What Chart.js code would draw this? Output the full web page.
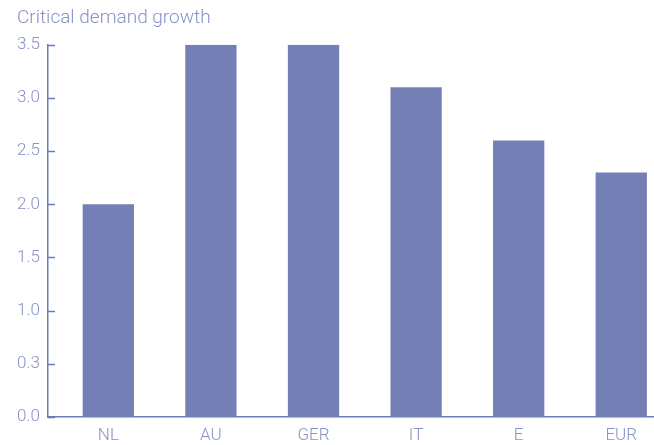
<!DOCTYPE html>
<html>
<head>
<meta charset="utf-8">
<script src="https://cdn.jsdelivr.net/npm/chart.js@4"></script>
<style>
  html, body { margin: 0; padding: 0; background: #fff; }
  #wrap { width: 654px; height: 445px; }
</style>
</head>
<body>
<div id="wrap"><canvas id="demandChart"></canvas></div>
<script>
const categories = ['NL', 'AU', 'GER', 'IT', 'E', 'EUR'];
const growth = [2.0, 3.5, 3.5, 3.1, 2.6, 2.3];
const yTickLabels = ['0.0', '0.3', '1.0', '1.5', '2.0', '2.5', '3.0', '3.5'];

const textColor = '#8792c6';
const axisColor = '#6b7bb8';
const barColor = '#7480b5';

Chart.defaults.font.family = 'Roboto, "DejaVu Sans", sans-serif';
Chart.defaults.color = textColor;

// small tick marks pointing into the plot, like the original
const innerTicks = {
    id: 'innerTicks',
    afterDraw(chart){
        const y = chart.scales.y;
        const ctx = chart.ctx;
        ctx.save();
        ctx.strokeStyle = axisColor;
        ctx.lineWidth = 1.5;
        y.ticks.forEach(t => {
            const py = Math.round(y.getPixelForValue(t.value)) + 0.5;
            ctx.beginPath();
            ctx.moveTo(y.right, py);
            ctx.lineTo(y.right + 7, py);
            ctx.stroke();
        });
        ctx.restore();
    }
};

const ctx = document.getElementById('demandChart').getContext('2d');
new Chart(ctx, {
    type: 'bar',
    data: {
        datasets: [{
            data: growth.map((v, i) => ({ x: i, y: v })),
            backgroundColor: barColor,
            barPercentage: 0.5,
            categoryPercentage: 1.0
        }]
    },
    options: {
        responsive: true,
        maintainAspectRatio: false,
        animation: false,
        layout: { padding: { left: 17, right: 0, top: 0, bottom: 0 } },
        plugins: {
            legend: { display: false },
            tooltip: { enabled: false },
            title: {
                display: true,
                text: 'Critical demand growth',
                align: 'start',
                color: textColor,
                font: { size: 19, weight: '300' },
                padding: { top: 7, bottom: 15 }
            }
        },
        scales: {
            x: {
                type: 'linear',
                offset: false,
                min: -0.588,
                max: 5.319,
                grid: { display: false },
                border: { display: true, color: axisColor, width: 1.5 },
                afterFit(scale){ scale.height = 28; },
                ticks: {
                    stepSize: 1,
                    includeBounds: false,
                    autoSkip: false,
                    maxRotation: 0,
                    padding: 1,
                    color: textColor,
                    font: { size: 17, weight: '300' },
                    callback: v => categories[v] ?? ''
                }
            },
            y: {
                min: 0,
                max: 3.5,
                grid: { display: false, drawTicks: false },
                border: { display: true, color: axisColor, width: 1.5 },
                afterFit(scale){ scale.width = 31; },
                ticks: {
                    stepSize: 0.5,
                    padding: 8,
                    color: textColor,
                    font: { size: 17, weight: '300' },
                    callback: (v, i) => yTickLabels[i]
                }
            }
        }
    },
    plugins: [innerTicks]
});
</script>
</body>
</html>
